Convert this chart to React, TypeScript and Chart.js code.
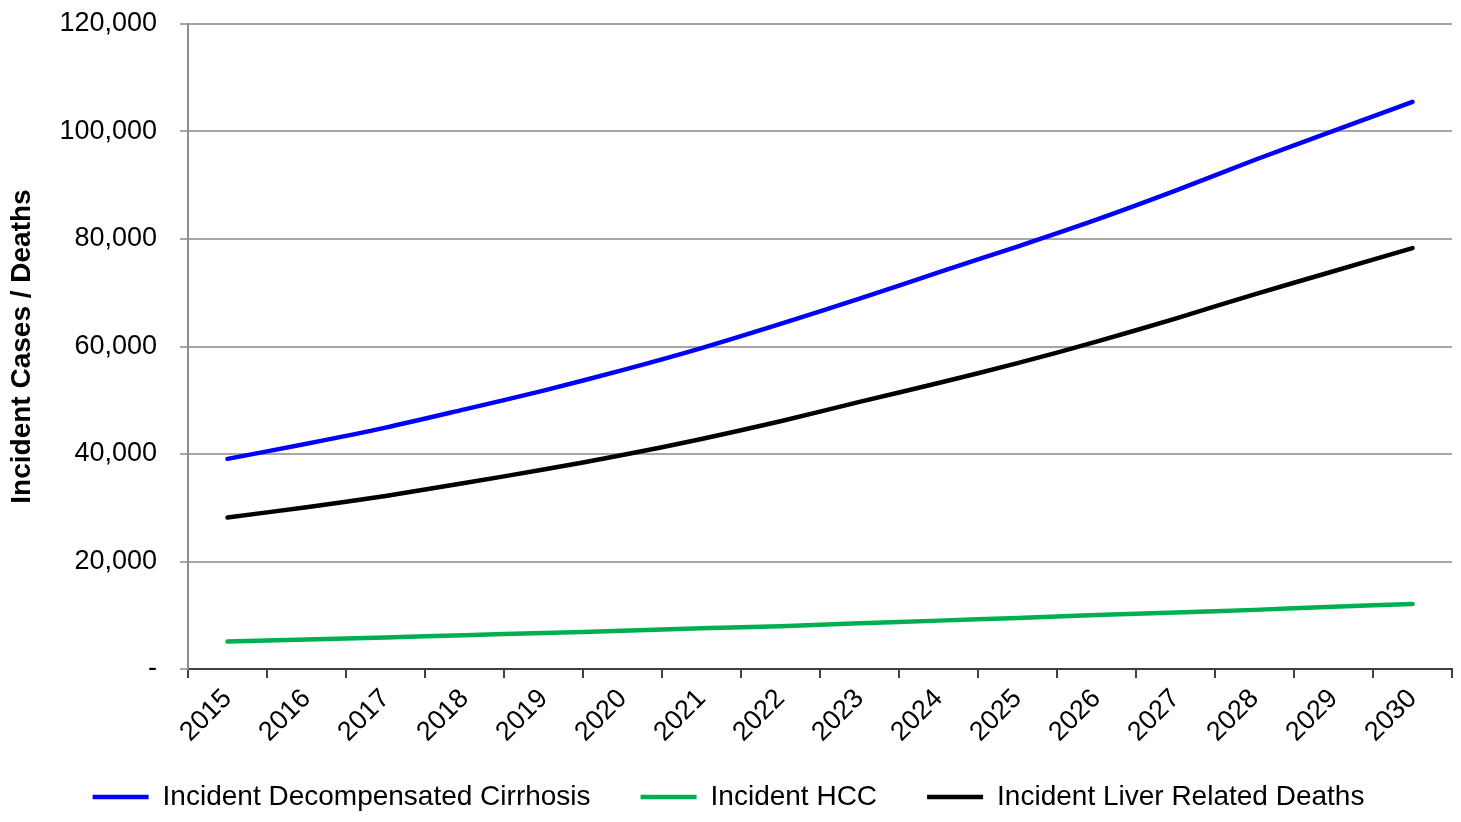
import React, { useEffect, useRef } from 'react';
import { Chart, registerables } from 'chart.js';

Chart.register(...registerables);

const years = ['2015', '2016', '2017', '2018', '2019', '2020', '2021', '2022', '2023', '2024', '2025', '2026', '2027', '2028', '2029', '2030'];
const decompensatedCirrhosis = [39100, 41900, 44900, 48300, 51800, 55600, 59700, 64200, 68900, 73800, 78600, 83600, 89000, 94700, 100100, 105500];
const incidentHCC = [5100, 5500, 5850, 6300, 6700, 7100, 7600, 7950, 8500, 9000, 9500, 10050, 10500, 11000, 11600, 12100];
const liverDeaths = [28200, 30100, 32200, 34600, 37100, 39800, 42800, 46100, 49700, 53200, 56900, 60900, 65200, 69700, 74000, 78300];
const seriesLabels = ['Incident Decompensated Cirrhosis', 'Incident HCC', 'Incident Liver Related Deaths'];
const yMax = 120000;
const yStep = 20000;

const FONT = '"Liberation Sans", Arial, sans-serif';

// lets the rotated year labels extend below the x-axis box (into the legend's empty top padding)
const extendLabelArea = {
  id: 'extendLabelArea',
  afterLayout(chart: any) {
    const x = chart.scales.x;
    if (x) x.bottom = chart.height;
  },
};

export default function App() {
  const ref = useRef<HTMLCanvasElement>(null);

  useEffect(() => {
    const canvas = ref.current;
    if (!canvas) return;
    const mk = (label: string, data: number[], color: string) => ({
      label,
      data,
      borderColor: color,
      backgroundColor: color,
      borderWidth: 4.5,
      pointRadius: 0,
      pointHoverRadius: 0,
      pointStyle: 'line' as const,
      tension: 0.3,
      borderCapStyle: 'round' as const,
      fill: false,
    });
    const chart = new Chart(canvas, {
      type: 'line',
      data: {
        labels: years,
        datasets: [
          mk(seriesLabels[0], decompensatedCirrhosis, '#0000ff'),
          mk(seriesLabels[1], incidentHCC, '#00b050'),
          mk(seriesLabels[2], liverDeaths, '#000000'),
        ],
      },
      plugins: [extendLabelArea],
      options: {
        animation: false,
        responsive: false,
        maintainAspectRatio: false,
        layout: { padding: { left: 5, right: 9, top: 24, bottom: 1 } },
        scales: {
          x: {
            type: 'category',
            offset: true,
            grid: {
              offset: true,
              drawOnChartArea: false,
              drawTicks: true,
              tickLength: 9,
              color: '#404040',
              lineWidth: 2,
            },
            border: { color: '#404040', width: 2 },
            ticks: {
              minRotation: 45,
              maxRotation: 45,
              autoSkip: false,
              color: '#000',
              padding: 5,
              font: { family: FONT, size: 27 },
            },
            afterFit: (s: any) => {
              s.height = 64;
            },
          },
          y: {
            min: 0,
            max: yMax,
            ticks: {
              stepSize: yStep,
              color: '#000',
              padding: 23,
              font: { family: FONT, size: 27 },
              callback: (v: any) => (Number(v) === 0 ? '-' : Number(v).toLocaleString('en-US')),
            },
            grid: { color: '#a6a6a6', lineWidth: 2, tickLength: 8 },
            border: { color: '#8c8c8c', width: 2 },
            title: {
              display: true,
              text: 'Incident Cases / Deaths',
              color: '#000',
              padding: 0,
              font: { family: FONT, size: 28, weight: 'bold' },
            },
            afterFit: (s: any) => {
              s.width = 183;
              s.paddingTop = 0;
              s.paddingBottom = 0;
            },
          },
        },
        plugins: {
          legend: {
            position: 'bottom',
            labels: {
              usePointStyle: true,
              pointStyle: 'line',
              pointStyleWidth: 56,
              color: '#000',
              padding: 50,
              font: { family: FONT, size: 28 },
            },
          },
          tooltip: { enabled: false },
        },
      },
    });
    return () => chart.destroy();
  }, []);

  return (
    <div style={{ position: 'fixed', left: 0, top: 0, width: 1461, height: 822, background: '#fff' }}>
      <canvas ref={ref} width={1461} height={822} style={{ width: 1461, height: 822, display: 'block' }} />
    </div>
  );
}
